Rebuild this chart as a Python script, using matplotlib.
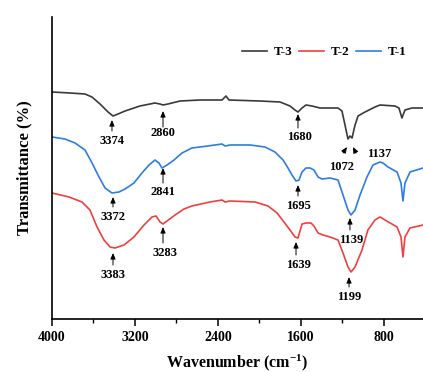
import numpy as np
import matplotlib.pyplot as plt

plt.rcParams['font.family'] = ['Liberation Serif', 'DejaVu Serif']
plt.rcParams['font.weight'] = 'bold'
plt.rcParams['mathtext.fontset'] = 'custom'
plt.rcParams['mathtext.rm'] = 'Liberation Serif:bold'
plt.rcParams['mathtext.default'] = 'rm'

# spectra (wavenumber, transmittance in arbitrary units)
wn_t3 = [4000, 3827, 3682, 3615, 3537, 3460, 3412, 3364, 3296, 3152, 3007, 2959, 2930, 2882,
         2766, 2573, 2361, 2323, 2294, 1995, 1802, 1706, 1658, 1629, 1590, 1552, 1494, 1417,
         1243, 1205, 1176, 1147, 1128, 1108, 1079, 1050, 983, 887, 838, 694, 656, 627, 598,
         530, 424]
tr_t3 = [227, 226, 225, 222, 215, 207, 203, 205, 208, 213, 216, 215, 214, 215,
         218, 219, 219, 223, 219, 218, 217, 213, 209, 207, 211, 214, 213, 211,
         211, 208, 194, 180, 183, 181, 194, 203, 207, 212, 214, 213, 211, 201, 209,
         211, 211]

wn_t1 = [4000, 3875, 3778, 3682, 3614, 3547, 3489, 3422, 3354, 3296, 3210, 3133, 3065, 3007,
         2969, 2940, 2891, 2824, 2747, 2651, 2573, 2429, 2361, 2332, 2284, 2091, 1947, 1851,
         1773, 1725, 1687, 1648, 1619, 1590, 1552, 1513, 1475, 1436, 1398, 1320, 1243, 1195,
         1147, 1118, 1079, 1031, 964, 906, 838, 810, 761, 674, 636, 617, 598, 549, 424]
tr_t1 = [182, 180, 176, 169, 156, 142, 131, 126, 127, 130, 136, 146, 154, 159,
         156, 151, 154, 159, 166, 171, 172, 174, 175, 173, 174, 174, 172, 167,
         159, 151, 144, 138, 139, 147, 151, 151, 149, 142, 140, 141, 139, 124,
         109, 104, 109, 124, 142, 154, 157, 156, 152, 147, 136, 118, 136, 147, 151]

wn_t2 = [4000, 3836, 3711, 3634, 3566, 3499, 3441, 3393, 3306, 3210, 3113, 3036, 2997, 2959,
         2930, 2891, 2814, 2728, 2651, 2477, 2361, 2332, 2284, 2043, 1918, 1831, 1764, 1706,
         1658, 1629, 1590, 1552, 1504, 1475, 1436, 1388, 1320, 1243, 1195, 1147, 1118, 1079,
         1012, 955, 887, 838, 790, 674, 636, 617, 598, 549, 424]
tr_t2 = [126, 122, 117, 109, 92, 79, 72, 71, 74, 82, 94, 102, 103, 97,
         95, 98, 104, 110, 113, 117, 119, 117, 118, 117, 113, 106, 97, 89,
         82, 81, 95, 96, 96, 93, 86, 84, 82, 79, 66, 52, 47, 52,
         69, 89, 99, 102, 99, 92, 82, 62, 82, 91, 94]

# peak labels: text, text position, arrow tail, arrow head
peak_labels = ['3374', '2860', '1680', '1072', '1137',
               '3372', '2841', '1695', '1139',
               '3383', '3283', '1639', '1199']
label_xy = [(3422, 178), (2930, 186), (1610, 182), (1210, 152), (850, 165),
            (3412, 102), (2930, 127), (1629, 113), (1118, 79),
            (3412, 44), (2910, 66), (1629, 54), (1137, 22)]
arrow_from = [(3422, 188), (2930, 192), (1629, 191), (1195, 166), (1070, 166),
              (3412, 112), (2930, 136), (1629, 123), (1128, 89),
              (3412, 54), (2930, 76), (1648, 64), (1137, 32)]
arrow_to = [(3422, 199), (2930, 208), (1629, 205), (1157, 172), (1099, 172),
            (3412, 122), (2930, 151), (1629, 134), (1128, 101),
            (3412, 66), (2930, 92), (1648, 77), (1137, 42)]

c_t3 = '#3a3a3a'
c_t2 = '#ef4040'
c_t1 = '#2f7de1'

fig = plt.figure(figsize=(4.23, 3.72), dpi=100)
ax = fig.add_axes([52 / 423, 53 / 372, 371 / 423, 302 / 372])

ax.plot(wn_t3, tr_t3, color=c_t3, lw=1.2, label='T-3')
ax.plot(wn_t2, tr_t2, color=c_t2, lw=1.2, label='T-2')
ax.plot(wn_t1, tr_t1, color=c_t1, lw=1.2, label='T-1')

for lab, txy, a0, a1 in zip(peak_labels, label_xy, arrow_from, arrow_to):
    ax.text(txy[0], txy[1], lab, fontsize=9, fontweight='bold', ha='center', va='center')
    ax.annotate('', xy=a1, xytext=a0,
                arrowprops=dict(arrowstyle='-|>,head_length=0.35,head_width=0.15',
                                color='black', lw=0.7, shrinkA=0, shrinkB=0))

ax.set_xlim(4000, 424)
ax.set_ylim(0, 302)
ax.set_xticks([4000, 3200, 2400, 1600, 800])
ax.set_xticks([3600, 2800, 2000, 1200], minor=True)
ax.set_yticks([])
ax.tick_params(axis='x', which='major', direction='out', length=5, width=1.1, labelsize=10)
ax.tick_params(axis='x', which='minor', direction='out', length=3, width=1.0)
for lbl in ax.get_xticklabels():
    lbl.set_fontweight('bold')
for s in ['top', 'right']:
    ax.spines[s].set_visible(False)
for s in ['left', 'bottom']:
    ax.spines[s].set_linewidth(1.2)

ax.set_xlabel('Wavenumber (cm$^{-1}$)', fontsize=11.5, fontweight='bold', labelpad=6.5)
ax.set_ylabel('Transmittance (%)', fontsize=12, fontweight='bold', labelpad=14)

ax.legend(loc='center', bbox_to_anchor=(0.733, 0.884), ncol=3, frameon=False,
          handlelength=1.9, handletextpad=0.5, columnspacing=0.5,
          prop={'weight': 'bold', 'size': 9.5})

fig.savefig('out.png', dpi=100)
